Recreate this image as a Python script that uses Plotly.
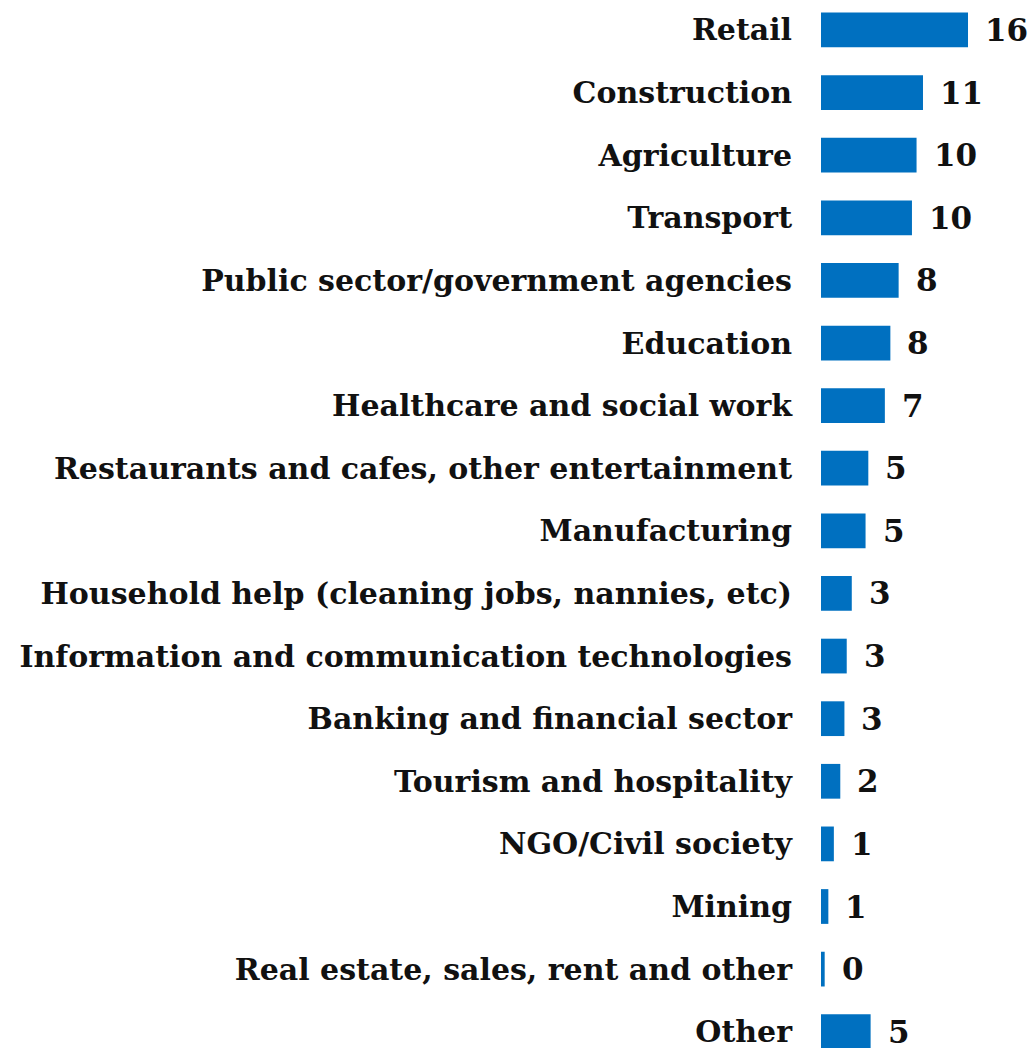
import plotly.graph_objects as go

categories = [
    "Retail", "Construction", "Agriculture", "Transport",
    "Public sector/government agencies", "Education",
    "Healthcare and social work", "Restaurants and cafes, other entertainment",
    "Manufacturing", "Household help (cleaning jobs, nannies, etc)",
    "Information and communication technologies", "Banking and financial sector",
    "Tourism and hospitality", "NGO/Civil society", "Mining",
    "Real estate, sales, rent and other", "Other",
]
values = [16.0, 11.1, 10.4, 9.9, 8.45, 7.55, 6.95, 5.15, 4.85, 3.35, 2.8, 2.55,
          2.1, 1.4, 0.8, 0.4, 5.4]
labels = [f"{int(v + 0.5):d}" for v in values]

FONT = "DejaVu Serif"

fig = go.Figure(go.Bar(
    x=values, y=categories, orientation="h",
    marker=dict(color="#0070C0", line=dict(width=0)),
    hoverinfo="skip",
))

for c, v, t in zip(categories, values, labels):
    fig.add_annotation(x=v, y=c, text=f"<b>{t}</b>", showarrow=False,
                       xanchor="left", yanchor="middle", xshift=15,
                       font=dict(family=FONT, size=31, color="#111111"))

fig.update_layout(
    width=1028, height=1040,
    margin=dict(l=813, r=0, t=0, b=0),
    plot_bgcolor="white", paper_bgcolor="white",
    bargap=0.445, showlegend=False,
)
fig.update_xaxes(range=[0, 23.4], visible=False)
fig.update_yaxes(
    categoryorder="array", categoryarray=categories,
    range=[16.26, -0.351], showgrid=False, zeroline=False, showline=False,
    ticks="", ticklabelstandoff=28,
    tickfont=dict(family=FONT, size=30, color="#111111", weight="bold"),
)
fig.write_html("out.html")
